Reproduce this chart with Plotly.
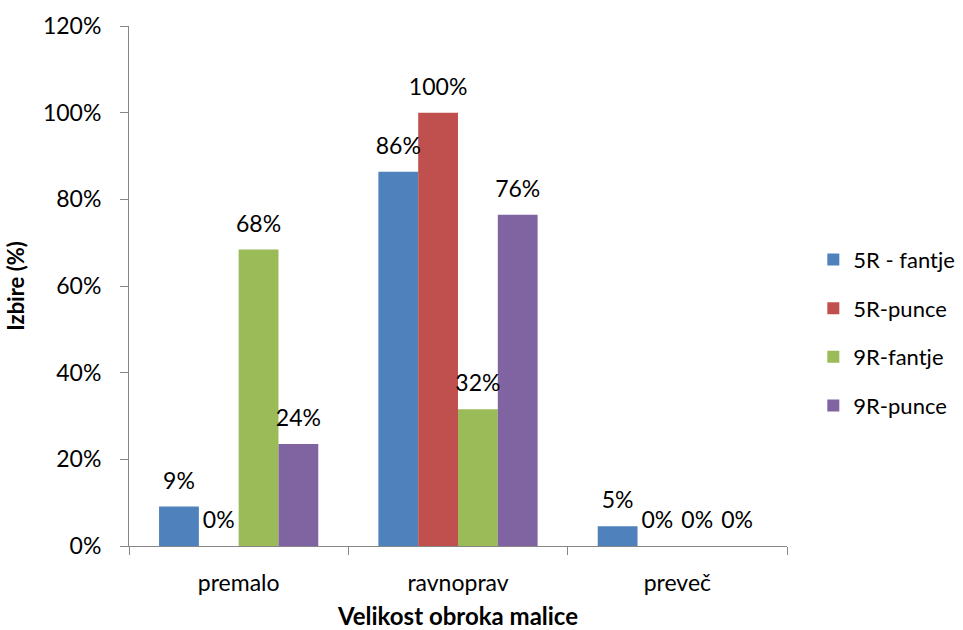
import plotly.graph_objects as go

# Portion-size survey: share of answers per group
categories = ["premalo", "ravnoprav", "preveč"]
series_names = ["5R - fantje", "5R-punce", "9R-fantje", "9R-punce"]
fantje_5r = [0.0909, 0.8636, 0.0455]
punce_5r = [0.0, 1.0, 0.0]
fantje_9r = [0.6842, 0.3158, 0.0]
punce_9r = [0.2353, 0.7647, 0.0]
y_ticks = [0, 0.2, 0.4, 0.6, 0.8, 1.0, 1.2]

series_values = [fantje_5r, punce_5r, fantje_9r, punce_9r]
colors = ["#4F81BD", "#C0504D", "#9BBB59", "#8064A2"]

FONT = "Lato, 'Liberation Sans', sans-serif"
AXIS_COLOR = "#868686"
FS = 23

fig = go.Figure()

for i, (name, vals, col) in enumerate(zip(series_names, series_values, colors)):
    fig.add_trace(go.Bar(
        x=categories, y=vals, name=name,
        marker=dict(color=col, line=dict(width=0)),
        offsetgroup=str(i), alignmentgroup="a",
        legendgroup=name, hoverinfo="skip",
    ))

# value labels placed above each bar via grouped text-only scatter
for i, vals in enumerate(series_values):
    fig.add_trace(go.Scatter(
        x=categories, y=vals, mode="text+markers",
        marker=dict(size=18, color="rgba(0,0,0,0)"),
        text=[f"{round(v * 100):.0f}%" for v in vals],
        textposition="top center",
        textfont=dict(family=FONT, size=FS, color="black"),
        offsetgroup=str(i), alignmentgroup="a",
        showlegend=False, hoverinfo="skip", cliponaxis=False,
    ))

fig.update_layout(
    width=963, height=630,
    margin=dict(l=129, r=176, t=26, b=84, autoexpand=False),
    paper_bgcolor="white", plot_bgcolor="white",
    barmode="group", bargap=0.274, bargroupgap=0,
    scattermode="group", scattergap=0.274,
    font=dict(family=FONT, size=FS, color="black"),
    showlegend=True,
    legend=dict(
        x=1.04, xanchor="left", y=0.41, yanchor="middle",
        traceorder="grouped", tracegroupgap=17, itemwidth=30,
        font=dict(family=FONT, size=22, color="black"),
        itemsizing="constant",
    ),
)

fig.update_xaxes(
    type="category",
    showline=True, linecolor=AXIS_COLOR, linewidth=1,
    ticks="outside", tickson="boundaries", ticklen=8, tickcolor=AXIS_COLOR,
    tickfont=dict(family=FONT, size=FS, color="black"),
    ticklabelstandoff=16,
    showgrid=False, zeroline=False,
    title=dict(text="<b>Velikost obroka malice</b>",
               font=dict(family=FONT, size=24, color="black"), standoff=16),
)

fig.update_yaxes(
    range=[0, 1.2], tickvals=y_ticks, tickformat=".0%",
    showline=True, linecolor=AXIS_COLOR, linewidth=1,
    ticks="outside", ticklen=8, tickcolor=AXIS_COLOR,
    tickfont=dict(family=FONT, size=FS, color="black"),
    ticklabelstandoff=14,
    showgrid=False, zeroline=False,
    title=dict(text="<b>Izbire (%)</b>",
               font=dict(family=FONT, size=22, color="black"), standoff=12),
)

fig.write_html("out.html")
